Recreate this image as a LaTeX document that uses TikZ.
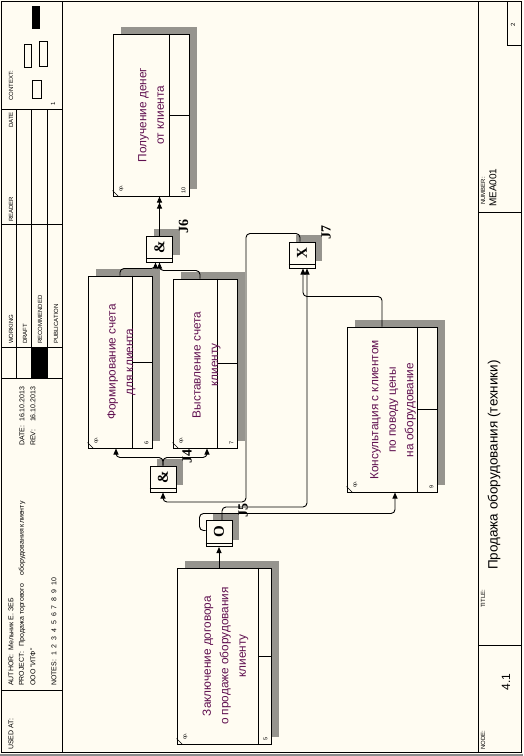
\documentclass[tikz,border=0pt]{standalone}
\usepackage{fontspec}
\setmainfont{Liberation Sans}
\newfontfamily\jfont{Liberation Serif}
\usetikzlibrary{arrows.meta, shadows, calc}
\definecolor{paper}{RGB}{255,252,242}
\definecolor{uobtext}{RGB}{96,16,80}
\definecolor{hatch}{RGB}{150,148,142}

\begin{document}
\begin{tikzpicture}
  [x=1pt, y=-1pt,
   uob/.style={draw, fill=paper, line width=1pt, inner sep=0pt,
     drop shadow={shadow xshift=8pt, shadow yshift=7pt, fill=hatch, opacity=1}},
   junc/.style={draw, fill=paper, line width=1pt, minimum size=26pt, inner sep=0pt,
     drop shadow={shadow xshift=7pt, shadow yshift=7pt, fill=hatch, opacity=1}},
   uobname/.style={rotate=90, align=center, text=uobtext,
     font=\fontsize{11.8}{17.5}\selectfont},
   jsym/.style={rotate=90, font=\jfont\bfseries\fontsize{15}{15}\selectfont},
   jlab/.style={rotate=90, font=\jfont\bfseries\fontsize{14}{14}\selectfont},
   formtext/.style={rotate=90, anchor=west, inner sep=0pt,
     font=\fontsize{6}{6}\selectfont},
   formnote/.style={formtext, font=\fontsize{7}{7}\selectfont},
   link/.style={line width=0.9pt, rounded corners=4pt,
     -{Triangle[length=6pt,width=5pt]}}]
  \useasboundingbox (0,0) rectangle (523,756);
  \fill[paper] (0,0) rectangle (523,756);
  % frame
  \draw[line width=1pt] (1,1) rectangle (521,752);
  \draw[black!45, line width=2pt] (0,755) -- (523,755);
  \draw[line width=0.9pt] (62,1) -- (62,752);
  \draw[line width=0.9pt] (478,1) -- (478,752);
  % form, left
  \foreach \y in {109,224,347,378,690} {
      \draw[line width=0.9pt] (1,\y) -- (62,\y);
  }
  \foreach \x in {16,31,47} {
      \draw[line width=0.9pt] (\x,109) -- (\x,378);
  }
  \fill (31,347) rectangle (47,378);
  \fill (32,6) rectangle (40,29);
  \draw (24,44) rectangle (31,67);
  \draw (39,41) rectangle (47,66);
  \draw (32,80) rectangle (41,98);
  \node[formtext, anchor=center] at (53,104) {1};
  \node[formtext] at (11,101) {CONTEXT:};
  \node[formtext] at (11,128) {DATE};
  \node[formtext] at (11,222) {READER};
  \node[formtext] at (11,344) {WORKING};
  \node[formtext] at (25,344) {DRAFT};
  \node[formtext] at (40,344) {RECOMMENDED};
  \node[formtext] at (56,344) {PUBLICATION};
  \node[formnote] at (11,686) {AUTHOR:\ \ Мельник Е. ЗЕБ};
  \node[formnote] at (22,686) {PROJECT:\ \ \ Продажа торгового\quad\ оборудования клиенту};
  \node[formnote] at (33,686) {ООО "ИТФ"};
  \node[formnote] at (54,686) {NOTES:\ \ 1\ \ 2\ \ 3\ \ 4\ \ 5\ \ 6\ \ 7\ \ 8\ \ 9\ \ 10};
  \node[formnote] at (22,446) {DATE:\ \ 16.10.2013};
  \node[formnote] at (33,446) {REV:\ \ \ \ 16.10.2013};
  \node[formnote] at (11,750) {USED AT:};
  % form, right
  \draw[line width=0.9pt] (478,645) -- (521,645);
  \draw[line width=0.9pt] (478,212) -- (521,212);
  \draw[line width=0.9pt] (507,1) -- (507,45) -- (521,45);
  \node[formtext, anchor=center] at (513,25) {2};
  \node[formtext] at (483,750) {NODE:};
  \node[formtext, anchor=center, font=\fontsize{12}{12}\selectfont] at (506,682) {4.1};
  \node[formtext] at (483,608) {TITLE:};
  \node[formtext, anchor=center, font=\fontsize{13.5}{13.5}\selectfont] at (494,465)
    {Продажа оборудования (техники)};
  \node[formtext] at (483,205) {NUMBER:};
  \node[formtext, font=\fontsize{10}{10}\selectfont] at (493,207) {MEA001};
  % boxes
  \node[uob, minimum width=76pt, minimum height=162pt] (b10) at (151,115) {};
  \node[uob, minimum width=64pt, minimum height=172pt] (b6) at (120,362) {};
  \node[uob, minimum width=64pt, minimum height=169pt] (b7) at (205,363.5) {};
  \node[uob, minimum width=90pt, minimum height=165pt] (b9) at (392,409.5) {};
  \node[uob, minimum width=94pt, minimum height=176pt] (b5) at (224,656) {};
  \foreach \b/\s/\n in {b10/20/10, b6/20/6, b7/20/7, b9/20/9, b5/13/5} {
      \draw ([xshift=-\s pt]\b.north east) -- ([xshift=-\s pt]\b.south east);
      \draw ([xshift=-\s pt]\b.east) -- (\b.east);
      \draw ([yshift=6pt]\b.south west) -- ([xshift=6pt]\b.south west);
      \node[formtext, anchor=center, font=\fontsize{5}{5}\selectfont]
        at ([xshift=9pt,yshift=8pt]\b.south west) {op.};
      \node[formtext, anchor=center, font=\fontsize{5.5}{5.5}\selectfont]
        at ([xshift=-6pt,yshift=6pt]\b.south east) {\n};
  }
  \node[uobname] at (151,115) {Получение денег\\от клиента};
  \node[uobname] at (121.5,362) {Формирование счета\\для клиента};
  \node[uobname] at (206.5,365) {Выставление счета\\клиенту};
  \node[uobname] at (393,410) {Консультация с клиентом\\по поводу цены\\на оборудование};
  \node[uobname] at (225.5,656) {Заключение договора\\о продаже оборудования\\клиенту};
  % junctions
  \node[junc] (j6) at (159.5,249) {};
  \node[junc] (j7) at (302,255) {};
  \node[junc] (j4) at (163,479) {};
  \node[junc] (j5) at (219,533.5) {};
  \foreach \j/\t/\l in {j6/\&/J6, j7/X/J7, j4/\&/J4, j5/O/J5} {
      \draw ([yshift=4pt]\j.south west) -- ([yshift=4pt]\j.south east);
      \node[jsym] at ([yshift=2pt]\j.center) {\t};
      \node[jlab] at ([shift={(24pt,23pt)}]\j.center) {\l};
  }
  % links
  \coordinate (loop) at (246,502);
  \draw[link] (b5.north -| j5.south) -- (j5.south);
  \draw[link] ([xshift=3pt]j5.north) -- ++(0,-13) -| ([xshift=5pt]j7.south);
  \draw[link] ([yshift=3pt]j5.west) -- ++(-6,0) -- ++(0,-17) -| ([xshift=3pt]b9.south);
  \draw[link] ([xshift=-10pt]b9.north) -- ++(0,-30) -| ([xshift=1pt]j7.south);
  \draw[link] ([xshift=-2pt]j7.north) -- ++(0,-8) -| (loop) -| (j4.south);
  \draw[link] (j4.north) -- ++(0,-8) -| ([xshift=-4pt]b6.south);
  \draw[link] (j4.north) -- ++(0,-8) -| ([xshift=2pt]b7.south);
  \draw[link] (b6.north) -- ++(0,-7) -| ([xshift=-4pt]j6.south);
  \draw[link] ([xshift=-5pt]b7.north) -- ++(0,-8) -| (j6.south);
  \draw[link, -{Triangle[length=6pt,width=5pt] Triangle[length=6pt,width=5pt]}]
    (j6.north) -- (j6.north |- b10.south);
\end{tikzpicture}
\end{document}
